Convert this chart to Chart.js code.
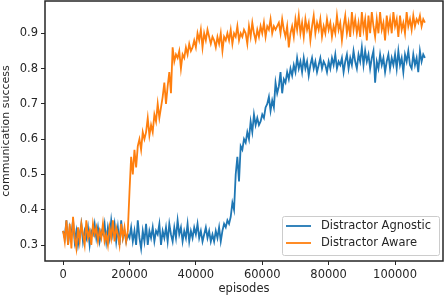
<!DOCTYPE html>
<html>
<head>
<meta charset="utf-8">
<script src="https://cdn.jsdelivr.net/npm/chart.js@4.4.1/dist/chart.umd.min.js"></script>
<style>
  html, body { margin: 0; padding: 0; background: #fff; }
  #wrap { width: 446px; height: 296px; }
</style>
</head>
<body>
<div id="wrap"><canvas id="myChart" width="446" height="296"></canvas></div>
<script>
// episodes sampled every 500, 0 .. 109000
var episodeStep = 500;

var agnostic = [
  0.34, 0.32, 0.37, 0.30, 0.35, 0.33, 0.37, 0.31, 0.34, 0.30,
  0.33, 0.36, 0.31, 0.34, 0.32, 0.35, 0.30, 0.34, 0.33, 0.36,
  0.32, 0.35, 0.31, 0.34, 0.33, 0.36, 0.31, 0.35, 0.32, 0.37,
  0.33, 0.36, 0.31, 0.35, 0.30, 0.37, 0.32, 0.34, 0.31, 0.33,
  0.32, 0.35, 0.31, 0.34, 0.30, 0.37, 0.32, 0.29, 0.34, 0.31,
  0.36, 0.30, 0.34, 0.32, 0.35, 0.31, 0.34, 0.33, 0.36, 0.30,
  0.34, 0.32, 0.35, 0.31, 0.36, 0.33, 0.31, 0.35, 0.32, 0.37,
  0.33, 0.35, 0.31, 0.34, 0.32, 0.36, 0.31, 0.34, 0.32, 0.35,
  0.33, 0.36, 0.32, 0.34, 0.31, 0.33, 0.35, 0.32, 0.34, 0.31,
  0.33, 0.31, 0.34, 0.32, 0.35, 0.31, 0.34, 0.36, 0.35, 0.37,
  0.36, 0.38, 0.42, 0.40, 0.50, 0.55, 0.48, 0.58, 0.57, 0.60,
  0.59, 0.62, 0.60, 0.65, 0.62, 0.67, 0.64, 0.66, 0.64, 0.65,
  0.67, 0.66, 0.69, 0.70, 0.72, 0.68, 0.71, 0.69, 0.76, 0.73,
  0.75, 0.79, 0.73, 0.77, 0.76, 0.79, 0.77, 0.80, 0.78, 0.81,
  0.79, 0.83, 0.80, 0.82, 0.79, 0.83, 0.80, 0.82, 0.78, 0.81,
  0.83, 0.80, 0.82, 0.79, 0.81, 0.83, 0.80, 0.82, 0.81, 0.79,
  0.82, 0.80, 0.83, 0.81, 0.84, 0.80, 0.82, 0.81, 0.83, 0.79,
  0.82, 0.84, 0.80, 0.83, 0.81, 0.85, 0.82, 0.80, 0.84, 0.82,
  0.86, 0.81, 0.85, 0.82, 0.84, 0.80, 0.83, 0.85, 0.76, 0.82,
  0.80, 0.84, 0.81, 0.83, 0.79, 0.82, 0.84, 0.80, 0.83, 0.81,
  0.84, 0.80, 0.85, 0.81, 0.83, 0.79, 0.84, 0.82, 0.85, 0.81,
  0.80, 0.84, 0.81, 0.83, 0.79, 0.85, 0.82, 0.84, 0.83
];

var aware = [
  0.34, 0.31, 0.37, 0.30, 0.36, 0.29, 0.38, 0.32, 0.29, 0.35,
  0.31, 0.36, 0.33, 0.30, 0.37, 0.32, 0.34, 0.30, 0.36, 0.33,
  0.35, 0.31, 0.34, 0.32, 0.36, 0.31, 0.33, 0.30, 0.35, 0.32,
  0.37, 0.31, 0.35, 0.33, 0.30, 0.36, 0.32, 0.35, 0.31, 0.34,
  0.45, 0.55, 0.50, 0.57, 0.52, 0.58, 0.60, 0.57, 0.62, 0.60,
  0.62, 0.66, 0.61, 0.64, 0.62, 0.67, 0.65, 0.70, 0.66, 0.69,
  0.72, 0.76, 0.70, 0.75, 0.79, 0.73, 0.86, 0.82, 0.84, 0.83,
  0.85, 0.80, 0.84, 0.83, 0.86, 0.84, 0.87, 0.85, 0.86, 0.88,
  0.86, 0.90, 0.88, 0.91, 0.86, 0.90, 0.88, 0.91, 0.89, 0.87,
  0.89, 0.88, 0.86, 0.89, 0.87, 0.90, 0.85, 0.89, 0.88, 0.90,
  0.88, 0.91, 0.87, 0.90, 0.89, 0.92, 0.88, 0.90, 0.89, 0.91,
  0.90, 0.87, 0.92, 0.89, 0.93, 0.90, 0.88, 0.91, 0.89, 0.92,
  0.90, 0.93, 0.89, 0.92, 0.91, 0.94, 0.90, 0.92, 0.91, 0.92,
  0.93, 0.90, 0.94, 0.91, 0.89, 0.92, 0.86, 0.90, 0.92, 0.89,
  0.94, 0.91, 0.95, 0.90, 0.93, 0.89, 0.94, 0.91, 0.93, 0.88,
  0.92, 0.95, 0.90, 0.93, 0.91, 0.94, 0.89, 0.92, 0.90, 0.94,
  0.91, 0.93, 0.89, 0.92, 0.90, 0.95, 0.91, 0.93, 0.88, 0.92,
  0.95, 0.90, 0.93, 0.89, 0.96, 0.91, 0.94, 0.90, 0.93, 0.89,
  0.96, 0.91, 0.94, 0.88, 0.95, 0.90, 0.96, 0.92, 0.89, 0.94,
  0.90, 0.96, 0.91, 0.93, 0.88, 0.95, 0.91, 0.94, 0.90, 0.96,
  0.92, 0.94, 0.89, 0.95, 0.91, 0.93, 0.90, 0.96, 0.92, 0.94,
  0.91, 0.95, 0.92, 0.94, 0.93, 0.95, 0.92, 0.94, 0.93
];

var xTicks = [0, 20000, 40000, 60000, 80000, 100000];
var yTicks = [0.3, 0.4, 0.5, 0.6, 0.7, 0.8, 0.9];
var seriesNames = ['Distractor Agnostic', 'Distractor Aware'];

function toPoints(values) {
  return values.map(function (v, i) { return { x: i * episodeStep, y: v }; });
}

var axisColor = '#262626';
var textColor = '#262626';
var fontFamily = "'DejaVu Sans', sans-serif";

// box around the plot like matplotlib spines
var frame = {
  id: 'frame',
  afterDatasetsDraw: function (chart) {
    var a = chart.chartArea, ctx = chart.ctx;
    ctx.save();
    ctx.strokeStyle = axisColor;
    ctx.lineWidth = 1.5;
    ctx.strokeRect(a.left, a.top, a.right - a.left, a.bottom - a.top);
    ctx.restore();
  }
};

// legend in lower right of the plot
var boxLegend = {
  id: 'boxLegend',
  afterDraw: function (chart) {
    var a = chart.chartArea, ctx = chart.ctx;
    var w = 157, h = 39;
    var x = a.right - 4 - w, y = a.bottom - 6 - h;
    ctx.save();
    ctx.fillStyle = 'rgba(255,255,255,0.85)';
    ctx.strokeStyle = '#cccccc';
    ctx.lineWidth = 1;
    ctx.beginPath();
    ctx.roundRect(x + 0.5, y + 0.5, w, h, 2);
    ctx.fill();
    ctx.stroke();
    ctx.font = '11.5px ' + fontFamily;
    ctx.textBaseline = 'middle';
    var order = [1, 0];
    order.forEach(function (di, k) {
      var ds = chart.data.datasets[di];
      var ly = y + 10 + k * 17;
      ctx.strokeStyle = ds.borderColor;
      ctx.lineWidth = 1.8;
      ctx.beginPath();
      ctx.moveTo(x + 4, ly);
      ctx.lineTo(x + 29, ly);
      ctx.stroke();
      ctx.fillStyle = textColor;
      ctx.fillText(ds.label, x + 39, ly);
    });
    ctx.restore();
  }
};

window.onload = function () {
  var ctx = document.getElementById('myChart').getContext('2d');
  new Chart(ctx, {
    type: 'line',
    data: {
      datasets: [
        {
          label: seriesNames[1],
          data: toPoints(aware),
          borderColor: '#ff7f0e',
          borderWidth: 1.8,
          pointRadius: 0,
          tension: 0,
          fill: false,
          order: 0
        },
        {
          label: seriesNames[0],
          data: toPoints(agnostic),
          borderColor: '#1f77b4',
          borderWidth: 1.8,
          pointRadius: 0,
          tension: 0,
          fill: false,
          order: 1
        }
      ]
    },
    options: {
      responsive: false,
      animation: false,
      layout: { padding: { top: 1, right: 3, left: 0, bottom: 0 } },
      plugins: { legend: { display: false }, tooltip: { enabled: false } },
      scales: {
        x: {
          type: 'linear',
          min: -5450,
          max: 114450,
          afterBuildTicks: function (s) { s.ticks = xTicks.map(function (v) { return { value: v }; }); },
          afterFit: function (s) { s.height = 35; s.paddingLeft = 0; s.paddingRight = 0; },
          grid: { drawOnChartArea: false, drawTicks: true, tickLength: 4, color: axisColor, tickWidth: 1 },
          border: { display: false },
          ticks: {
            color: textColor,
            font: { family: fontFamily, size: 11.5 },
            padding: 3,
            maxRotation: 0,
            callback: function (v) { return String(v); }
          },
          title: {
            display: true,
            text: 'episodes',
            color: textColor,
            font: { family: fontFamily, size: 11.5 },
            padding: 0
          }
        },
        y: {
          type: 'linear',
          min: 0.2547,
          max: 0.9915,
          afterBuildTicks: function (s) { s.ticks = yTicks.map(function (v) { return { value: v }; }); },
          afterFit: function (s) { s.width = 45; s.paddingTop = 0; s.paddingBottom = 0; },
          grid: { drawOnChartArea: false, drawTicks: true, tickLength: 4, color: axisColor, tickWidth: 1 },
          border: { display: false },
          ticks: {
            color: textColor,
            font: { family: fontFamily, size: 11.5 },
            padding: 3,
            callback: function (v) { return v.toFixed(1); }
          },
          title: {
            display: true,
            text: 'communication success',
            color: textColor,
            font: { family: fontFamily, size: 11 },
            padding: 0
          }
        }
      }
    },
    plugins: [frame, boxLegend]
  });
};
</script>
</body>
</html>
